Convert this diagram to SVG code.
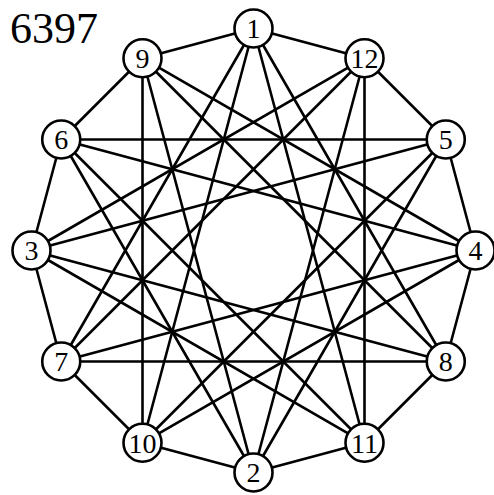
<svg xmlns="http://www.w3.org/2000/svg" width="494" height="495" viewBox="0 0 494 495">
<style>
.e{stroke:#000;stroke-width:2.6;fill:none;stroke-linecap:round}
.n circle{fill:#fff;stroke:#000;stroke-width:2.6}
.n text{font-family:"Liberation Serif","Times New Roman",serif;font-size:28px;text-anchor:middle;fill:#000}
.t{font-family:"Liberation Serif","Times New Roman",serif;font-size:44px;fill:#000}
</style>
<rect width="494" height="495" fill="#fff"/>
<text class="t" x="10" y="43">6397</text>
<g id="edges" class="e">
<line x1="253.5" y1="28.5" x2="364.5" y2="58.24"/>
<line x1="364.5" y1="58.24" x2="445.76" y2="139.5"/>
<line x1="445.76" y1="139.5" x2="475.5" y2="250.5"/>
<line x1="475.5" y1="250.5" x2="445.76" y2="361.5"/>
<line x1="445.76" y1="361.5" x2="364.5" y2="442.76"/>
<line x1="364.5" y1="442.76" x2="253.5" y2="472.5"/>
<line x1="253.5" y1="472.5" x2="142.5" y2="442.76"/>
<line x1="142.5" y1="442.76" x2="61.24" y2="361.5"/>
<line x1="61.24" y1="361.5" x2="31.5" y2="250.5"/>
<line x1="31.5" y1="250.5" x2="61.24" y2="139.5"/>
<line x1="61.24" y1="139.5" x2="142.5" y2="58.24"/>
<line x1="142.5" y1="58.24" x2="253.5" y2="28.5"/>
<line x1="253.5" y1="28.5" x2="445.76" y2="361.5"/>
<line x1="364.5" y1="58.24" x2="364.5" y2="442.76"/>
<line x1="445.76" y1="139.5" x2="253.5" y2="472.5"/>
<line x1="475.5" y1="250.5" x2="142.5" y2="442.76"/>
<line x1="445.76" y1="361.5" x2="61.24" y2="361.5"/>
<line x1="364.5" y1="442.76" x2="31.5" y2="250.5"/>
<line x1="253.5" y1="472.5" x2="61.24" y2="139.5"/>
<line x1="142.5" y1="442.76" x2="142.5" y2="58.24"/>
<line x1="61.24" y1="361.5" x2="253.5" y2="28.5"/>
<line x1="31.5" y1="250.5" x2="364.5" y2="58.24"/>
<line x1="61.24" y1="139.5" x2="445.76" y2="139.5"/>
<line x1="142.5" y1="58.24" x2="475.5" y2="250.5"/>
<line x1="253.5" y1="28.5" x2="364.5" y2="442.76"/>
<line x1="364.5" y1="58.24" x2="253.5" y2="472.5"/>
<line x1="445.76" y1="139.5" x2="142.5" y2="442.76"/>
<line x1="475.5" y1="250.5" x2="61.24" y2="361.5"/>
<line x1="445.76" y1="361.5" x2="31.5" y2="250.5"/>
<line x1="364.5" y1="442.76" x2="61.24" y2="139.5"/>
<line x1="253.5" y1="472.5" x2="142.5" y2="58.24"/>
<line x1="142.5" y1="442.76" x2="253.5" y2="28.5"/>
<line x1="61.24" y1="361.5" x2="364.5" y2="58.24"/>
<line x1="31.5" y1="250.5" x2="445.76" y2="139.5"/>
<line x1="61.24" y1="139.5" x2="475.5" y2="250.5"/>
<line x1="142.5" y1="58.24" x2="445.76" y2="361.5"/>
</g>
<g id="n1" class="n"><circle cx="253.5" cy="28.5" r="19"/><text x="253.5" y="38.3">1</text></g>
<g id="n12" class="n"><circle cx="364.5" cy="58.24" r="19"/><text x="364.5" y="68">12</text></g>
<g id="n5" class="n"><circle cx="445.76" cy="139.5" r="19"/><text x="445.76" y="149.3">5</text></g>
<g id="n4" class="n"><circle cx="475.5" cy="250.5" r="19"/><text x="475.5" y="260.3">4</text></g>
<g id="n8" class="n"><circle cx="445.76" cy="361.5" r="19"/><text x="445.76" y="371.3">8</text></g>
<g id="n11" class="n"><circle cx="364.5" cy="442.76" r="19"/><text x="364.5" y="452.5">11</text></g>
<g id="n2" class="n"><circle cx="253.5" cy="472.5" r="19"/><text x="253.5" y="482.3">2</text></g>
<g id="n10" class="n"><circle cx="142.5" cy="442.76" r="19"/><text x="142.5" y="452.5">10</text></g>
<g id="n7" class="n"><circle cx="61.24" cy="361.5" r="19"/><text x="61.24" y="371.3">7</text></g>
<g id="n3" class="n"><circle cx="31.5" cy="250.5" r="19"/><text x="31.5" y="260.3">3</text></g>
<g id="n6" class="n"><circle cx="61.24" cy="139.5" r="19"/><text x="61.24" y="149.3">6</text></g>
<g id="n9" class="n"><circle cx="142.5" cy="58.24" r="19"/><text x="142.5" y="68">9</text></g>
</svg>
